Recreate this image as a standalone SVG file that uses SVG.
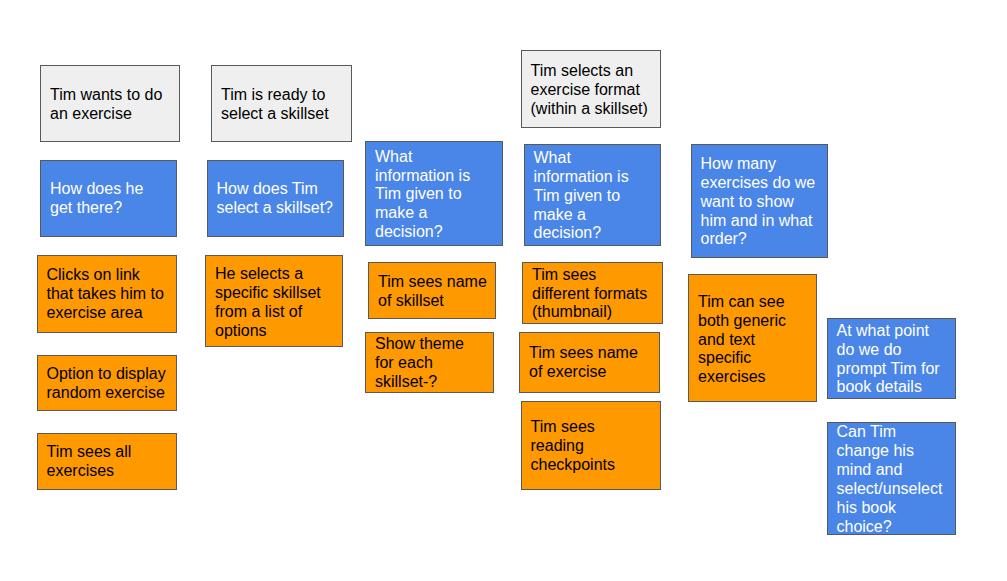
<svg xmlns="http://www.w3.org/2000/svg" width="1007" height="581" viewBox="0 0 1007 581">
  <style>
    .card rect { stroke: #595959; stroke-width: 1; }
    .step rect { fill: #efefef; }
    .question rect { fill: #4a86e8; }
    .answer rect { fill: #ff9900; }
    text { font-family: "Liberation Sans", Arial, sans-serif; font-size: 16px; }
    .step text, .answer text { fill: #000000; }
    .question text { fill: #ffffff; }
  </style>
  <rect width="1007" height="581" fill="#ffffff"/>

  <!-- Column 1: getting to exercises -->
  <g id="wants-exercise" class="card step">
    <rect x="40.5" y="65.5" width="139" height="76"/>
    <text x="50" y="100">Tim wants to do</text>
    <text x="50" y="119">an exercise</text>
  </g>
  <g id="how-get-there" class="card question">
    <rect x="40.5" y="160.5" width="136" height="76"/>
    <text x="50" y="194">How does he</text>
    <text x="50" y="213">get there?</text>
  </g>
  <g id="clicks-link" class="card answer">
    <rect x="37.5" y="255.5" width="139" height="77"/>
    <text x="46.5" y="280">Clicks on link</text>
    <text x="46.5" y="299">that takes him to</text>
    <text x="46.5" y="318">exercise area</text>
  </g>
  <g id="random-exercise" class="card answer">
    <rect x="37.5" y="355.5" width="139" height="55"/>
    <text x="46.5" y="379">Option to display</text>
    <text x="46.5" y="398">random exercise</text>
  </g>
  <g id="sees-all" class="card answer">
    <rect x="37.5" y="433.5" width="139" height="56"/>
    <text x="46.5" y="457">Tim sees all</text>
    <text x="46.5" y="476">exercises</text>
  </g>

  <!-- Column 2: selecting a skillset -->
  <g id="ready-skillset" class="card step">
    <rect x="211.5" y="65.5" width="140" height="76"/>
    <text x="221" y="100">Tim is ready to</text>
    <text x="221" y="119">select a skillset</text>
  </g>
  <g id="how-select-skillset" class="card question">
    <rect x="207.5" y="160.5" width="136" height="76"/>
    <text x="216.5" y="194">How does Tim</text>
    <text x="216.5" y="213">select a skillset?</text>
  </g>
  <g id="selects-from-list" class="card answer">
    <rect x="205.5" y="255.5" width="137" height="91"/>
    <text x="215" y="278.5">He selects a</text>
    <text x="215" y="297.5">specific skillset</text>
    <text x="215" y="316.5">from a list of</text>
    <text x="215" y="335.5">options</text>
  </g>

  <!-- Column 3: skillset information -->
  <g id="skillset-info" class="card question">
    <rect x="365.5" y="141.5" width="137" height="104"/>
    <text x="375" y="161.7">What</text>
    <text x="375" y="180.5">information is</text>
    <text x="375" y="199.2">Tim given to</text>
    <text x="375" y="218">make a</text>
    <text x="375" y="236.7">decision?</text>
  </g>
  <g id="sees-skillset-name" class="card answer">
    <rect x="368.5" y="262.5" width="127" height="56"/>
    <text x="378" y="286.7">Tim sees name</text>
    <text x="378" y="305.7">of skillset</text>
  </g>
  <g id="skillset-theme" class="card answer">
    <rect x="365.5" y="332.5" width="128" height="60"/>
    <text x="375" y="349">Show theme</text>
    <text x="375" y="367.8">for each</text>
    <text x="375" y="386.7">skillset-?</text>
  </g>

  <!-- Column 4: selecting an exercise format -->
  <g id="selects-format" class="card step">
    <rect x="521.5" y="50.5" width="139" height="77"/>
    <text x="530.5" y="76">Tim selects an</text>
    <text x="530.5" y="95">exercise format</text>
    <text x="530.5" y="114">(within a skillset)</text>
  </g>
  <g id="format-info" class="card question">
    <rect x="524.5" y="144.5" width="136" height="101"/>
    <text x="533.5" y="163.3">What</text>
    <text x="533.5" y="182.1">information is</text>
    <text x="533.5" y="200.8">Tim given to</text>
    <text x="533.5" y="219.6">make a</text>
    <text x="533.5" y="238.3">decision?</text>
  </g>
  <g id="sees-formats" class="card answer">
    <rect x="522.5" y="262.5" width="140" height="61"/>
    <text x="532" y="280">Tim sees</text>
    <text x="532" y="298.7">different formats</text>
    <text x="532" y="317.3">(thumbnail)</text>
  </g>
  <g id="sees-exercise-name" class="card answer">
    <rect x="519.5" y="332.5" width="140" height="60"/>
    <text x="529" y="358.3">Tim sees name</text>
    <text x="529" y="377.3">of exercise</text>
  </g>
  <g id="reading-checkpoints" class="card answer">
    <rect x="521.5" y="401.5" width="139" height="88"/>
    <text x="530.5" y="432.3">Tim sees</text>
    <text x="530.5" y="451.2">reading</text>
    <text x="530.5" y="470">checkpoints</text>
  </g>

  <!-- Column 5: exercise list -->
  <g id="how-many-exercises" class="card question">
    <rect x="691.5" y="144.5" width="136" height="113"/>
    <text x="700.5" y="169">How many</text>
    <text x="700.5" y="187.8">exercises do we</text>
    <text x="700.5" y="206.7">want to show</text>
    <text x="700.5" y="225.5">him and in what</text>
    <text x="700.5" y="244.3">order?</text>
  </g>
  <g id="generic-and-text" class="card answer">
    <rect x="688.5" y="274.5" width="128" height="127"/>
    <text x="698" y="306.7">Tim can see</text>
    <text x="698" y="325.6">both generic</text>
    <text x="698" y="344.5">and text</text>
    <text x="698" y="363.4">specific</text>
    <text x="698" y="382.3">exercises</text>
  </g>

  <!-- Column 6: book details -->
  <g id="book-prompt" class="card question">
    <rect x="827.5" y="318.5" width="128" height="80"/>
    <text x="836.5" y="335.7">At what point</text>
    <text x="836.5" y="354.6">do we do</text>
    <text x="836.5" y="373.5">prompt Tim for</text>
    <text x="836.5" y="392.3">book details</text>
  </g>
  <g id="change-book" class="card question">
    <rect x="827.5" y="422.5" width="128" height="112"/>
    <text x="836.5" y="436.7">Can Tim</text>
    <text x="836.5" y="455.7">change his</text>
    <text x="836.5" y="474.7">mind and</text>
    <text x="836.5" y="493.7">select/unselect</text>
    <text x="836.5" y="512.7">his book</text>
    <text x="836.5" y="531.7">choice?</text>
  </g>

  <!-- No connectors between cards -->
  <g id="connectors"/>
</svg>
